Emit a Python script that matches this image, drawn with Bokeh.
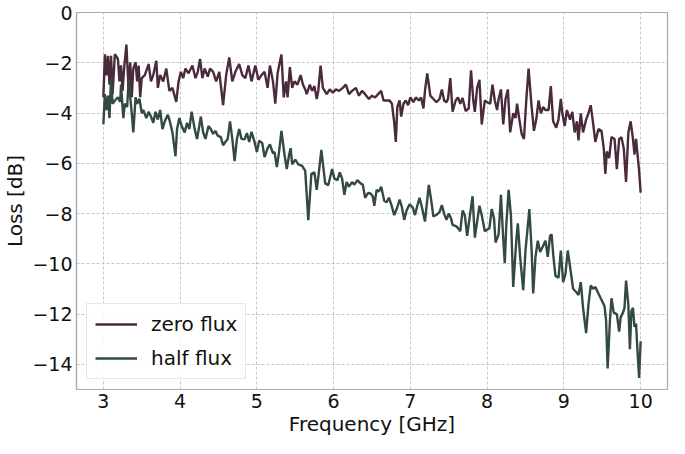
from bokeh.plotting import figure
from bokeh.models import Range1d, FixedTicker, Legend, LegendItem
from bokeh.embed import file_html
from bokeh.resources import INLINE

# ---- data ----
freq_zero = [3.00, 3.02, 3.04, 3.06, 3.08, 3.10, 3.12, 3.15, 3.19, 3.21, 3.23, 3.25, 3.27, 3.30, 3.33,
             3.35, 3.37, 3.39, 3.42, 3.44, 3.46, 3.48, 3.50, 3.54, 3.59, 3.62, 3.65, 3.69, 3.71, 3.74,
             3.78, 3.82, 3.86, 3.90, 3.95, 3.98, 4.01, 4.04, 4.07, 4.11, 4.16, 4.20, 4.23, 4.26, 4.29,
             4.32, 4.36, 4.39, 4.43, 4.47, 4.51, 4.56, 4.60, 4.64, 4.68, 4.72, 4.77, 4.81, 4.85, 4.89,
             4.93, 4.98, 5.02, 5.06, 5.10, 5.14, 5.17, 5.21, 5.24, 5.27, 5.29, 5.32, 5.35, 5.38, 5.40,
             5.43, 5.46, 5.49, 5.53, 5.57, 5.60, 5.63, 5.65, 5.69, 5.72, 5.75, 5.78, 5.80, 5.83, 5.86,
             5.91, 5.95, 5.99, 6.03, 6.07, 6.12, 6.16, 6.20, 6.24, 6.29, 6.33, 6.37, 6.41, 6.46, 6.50,
             6.54, 6.58, 6.62, 6.65, 6.69, 6.73, 6.76, 6.79, 6.81, 6.83, 6.86, 6.88, 6.91, 6.94, 6.97,
             7.00, 7.04, 7.07, 7.11, 7.14, 7.17, 7.19, 7.22, 7.26, 7.30, 7.34, 7.38, 7.41, 7.44, 7.47,
             7.49, 7.52, 7.55, 7.59, 7.62, 7.65, 7.68, 7.72, 7.76, 7.79, 7.82, 7.84, 7.87, 7.90, 7.93,
             7.97, 8.00, 8.04, 8.07, 8.10, 8.13, 8.15, 8.18, 8.21, 8.24, 8.27, 8.30, 8.34, 8.37, 8.39,
             8.42, 8.45, 8.48, 8.51, 8.54, 8.58, 8.61, 8.64, 8.67, 8.70, 8.73, 8.76, 8.80, 8.83, 8.86,
             8.90, 8.93, 8.96, 8.98, 9.01, 9.04, 9.08, 9.11, 9.14, 9.17, 9.19, 9.22, 9.25, 9.29, 9.32,
             9.35, 9.38, 9.41, 9.45, 9.49, 9.52, 9.54, 9.56, 9.59, 9.62, 9.66, 9.69, 9.72, 9.75, 9.78,
             9.81, 9.84, 9.87, 9.90, 9.92, 9.94, 9.96, 9.98, 10.00]
loss_zero = [-3.37, -1.66, -2.50, -1.72, -2.87, -1.72, -3.25, -1.66, -1.85, -2.74, -2.10, -3.12, -2.23, -1.28, -3.12,
             -1.98, -3.37, -2.23, -1.98, -2.74, -2.11, -3.37, -2.61, -2.49, -2.05, -2.74, -2.49, -1.92, -3.00, -2.49,
             -2.74, -2.23, -3.12, -3.00, -3.56, -2.74, -2.36, -2.61, -2.23, -2.42, -2.11, -2.61, -2.36, -1.85, -2.61,
             -2.23, -2.55, -2.23, -2.36, -2.74, -2.36, -3.69, -2.49, -1.79, -2.74, -2.36, -2.05, -2.49, -2.61, -2.11,
             -2.74, -2.11, -2.68, -2.49, -2.36, -3.00, -2.11, -2.74, -3.63, -2.42, -2.11, -1.67, -3.38, -2.74, -3.38,
             -2.17, -3.00, -2.74, -2.87, -2.49, -2.87, -3.06, -3.25, -2.87, -3.12, -2.93, -3.44, -3.12, -2.11, -3.00,
             -3.25, -3.06, -3.19, -3.06, -3.12, -3.00, -2.87, -3.25, -3.12, -3.00, -3.31, -3.12, -3.25, -3.44, -3.31,
             -3.38, -3.25, -3.12, -3.50, -3.50, -3.50, -3.63, -4.39, -5.15, -3.76, -3.50, -4.14, -3.63, -3.50, -3.69,
             -3.38, -3.57, -3.38, -3.50, -3.38, -3.82, -3.12, -2.42, -3.31, -3.44, -3.57, -3.44, -3.06, -3.50, -3.57,
             -3.44, -2.61, -3.95, -3.50, -3.38, -3.63, -3.40, -3.92, -3.82, -2.30, -3.50, -3.95, -3.00, -2.68, -4.45,
             -3.50, -3.57, -3.63, -2.87, -3.50, -3.88, -3.44, -3.06, -4.45, -3.44, -3.06, -4.77, -4.01, -4.20, -3.63,
             -4.26, -4.83, -5.03, -3.50, -2.23, -3.76, -4.71, -4.26, -3.50, -4.01, -3.76, -3.88, -3.88, -2.93, -4.33,
             -4.58, -4.26, -3.44, -4.01, -4.52, -3.88, -4.26, -3.95, -4.77, -4.33, -5.09, -4.01, -4.77, -4.26, -4.01,
             -3.69, -4.39, -5.15, -4.64, -4.71, -5.41, -6.42, -5.53, -5.79, -4.96, -5.03, -6.23, -5.03, -4.96, -5.41,
             -6.74, -4.77, -4.33, -5.03, -5.66, -5.03, -5.66, -6.29, -7.17]

freq_half = [3.00, 3.02, 3.04, 3.06, 3.08, 3.10, 3.12, 3.15, 3.19, 3.22, 3.23, 3.26, 3.28, 3.31, 3.33,
             3.37, 3.39, 3.42, 3.44, 3.47, 3.50, 3.52, 3.56, 3.59, 3.62, 3.65, 3.68, 3.71, 3.74, 3.77,
             3.80, 3.84, 3.86, 3.90, 3.94, 3.96, 3.99, 4.02, 4.06, 4.09, 4.12, 4.15, 4.19, 4.22, 4.25,
             4.27, 4.30, 4.33, 4.37, 4.40, 4.43, 4.46, 4.49, 4.53, 4.56, 4.59, 4.62, 4.65, 4.68, 4.71,
             4.74, 4.77, 4.80, 4.84, 4.87, 4.90, 4.93, 4.97, 5.00, 5.03, 5.07, 5.10, 5.14, 5.17, 5.21,
             5.23, 5.26, 5.29, 5.32, 5.36, 5.39, 5.42, 5.44, 5.46, 5.50, 5.54, 5.59, 5.63, 5.67, 5.71,
             5.75, 5.78, 5.81, 5.84, 5.89, 5.93, 5.98, 6.01, 6.05, 6.08, 6.11, 6.14, 6.17, 6.20, 6.24,
             6.27, 6.31, 6.35, 6.38, 6.41, 6.45, 6.48, 6.51, 6.53, 6.56, 6.59, 6.62, 6.66, 6.69, 6.72,
             6.75, 6.79, 6.83, 6.86, 6.89, 6.92, 6.95, 6.99, 7.03, 7.06, 7.09, 7.12, 7.15, 7.19, 7.24,
             7.27, 7.30, 7.34, 7.38, 7.41, 7.44, 7.47, 7.50, 7.53, 7.55, 7.60, 7.62, 7.65, 7.68, 7.71,
             7.74, 7.77, 7.81, 7.84, 7.87, 7.90, 7.93, 7.97, 8.00, 8.03, 8.06, 8.09, 8.11, 8.15, 8.18,
             8.21, 8.23, 8.25, 8.28, 8.31, 8.34, 8.38, 8.40, 8.43, 8.47, 8.50, 8.55, 8.58, 8.60, 8.63,
             8.66, 8.69, 8.73, 8.76, 8.79, 8.82, 8.84, 8.86, 8.89, 8.93, 8.96, 8.99, 9.02, 9.05, 9.08,
             9.12, 9.16, 9.19, 9.22, 9.25, 9.29, 9.32, 9.35, 9.38, 9.41, 9.45, 9.48, 9.51, 9.53, 9.55,
             9.57, 9.60, 9.62, 9.65, 9.69, 9.72, 9.74, 9.77, 9.79, 9.81, 9.84, 9.86, 9.88, 9.90, 9.92,
             9.94, 9.96, 9.98, 10.00]
loss_half = [-4.45, -3.25, -3.88, -3.31, -4.20, -2.61, -3.63, -3.50, -3.37, -3.56, -2.87, -4.20, -3.63, -3.76, -2.68,
             -4.01, -4.77, -3.37, -3.63, -3.43, -4.01, -3.88, -4.20, -3.95, -4.14, -4.39, -3.95, -4.26, -3.88, -4.64,
             -4.33, -4.07, -4.26, -4.77, -5.72, -4.64, -4.20, -4.52, -4.77, -4.39, -4.64, -3.95, -4.64, -5.03, -4.52,
             -4.14, -4.77, -5.03, -4.52, -4.64, -4.83, -4.71, -4.90, -4.96, -5.28, -5.15, -5.03, -4.33, -5.03, -5.91,
             -5.03, -4.64, -5.03, -5.05, -4.80, -5.15, -4.75, -5.15, -5.55, -5.10, -5.20, -5.75, -5.40, -5.25, -5.60,
             -5.55, -6.15, -5.53, -4.71, -5.66, -6.23, -5.66, -5.40, -6.04, -5.85, -6.04, -6.10, -6.30, -8.26, -6.42,
             -6.36, -7.06, -6.30, -5.47, -6.80, -6.87, -6.23, -6.61, -6.67, -6.36, -6.60, -7.25, -6.74, -6.93, -6.75,
             -6.85, -6.67, -6.80, -6.85, -7.37, -7.18, -7.20, -7.31, -7.69, -7.06, -7.12, -6.93, -7.50, -7.55, -7.37,
             -7.63, -8.06, -7.75, -7.44, -7.75, -8.25, -7.88, -7.63, -7.75, -8.06, -7.69, -7.37, -7.75, -8.32, -6.86,
             -7.44, -8.12, -8.05, -7.94, -7.66, -8.00, -8.25, -8.00, -8.20, -8.45, -8.51, -8.58, -8.70, -7.88, -8.07,
             -8.89, -8.20, -7.31, -8.96, -8.32, -7.69, -8.07, -8.70, -8.64, -8.58, -7.82, -8.20, -9.15, -8.83, -7.25,
             -9.02, -9.97, -8.45, -7.06, -8.07, -10.92, -9.08, -8.39, -9.72, -11.05, -9.47, -7.82, -9.47, -11.18, -9.72,
             -9.08, -9.53, -9.28, -9.08, -9.72, -8.89, -8.83, -9.60, -10.48, -10.55, -9.47, -10.73, -10.42, -9.47, -10.10,
             -10.99, -11.12, -11.24, -10.73, -11.75, -12.76, -11.62, -10.86, -10.99, -10.92, -11.18, -11.37, -11.56, -11.69, -12.26,
             -14.16, -12.26, -11.37, -11.94, -12.00, -12.70, -12.13, -11.94, -11.75, -10.67, -11.62, -13.40, -11.88, -11.75, -12.51,
             -12.38, -13.52, -14.54, -13.08]

series_labels = ["zero flux", "half flux"]
x_ticks = [3, 4, 5, 6, 7, 8, 9, 10]
y_ticks = [0, -2, -4, -6, -8, -10, -12, -14]

# ---- figure ----
FONT = "DejaVu Sans"
p = figure(width=669, height=438, output_backend="svg", toolbar_location=None,
           x_range=Range1d(2.65, 10.35), y_range=Range1d(-15, 0),
           min_border_top=12, min_border_right=2, min_border_left=10, min_border_bottom=10)
p.background_fill_color = "white"
p.border_fill_color = "white"
p.outline_line_color = "#aaaaaa"
p.outline_line_width = 1.2

c_zero = "#4a2b3b"
c_half = "#334a3e"
r0 = p.line(freq_zero, loss_zero, line_color=c_zero, line_width=2.4)
r1 = p.line(freq_half, loss_half, line_color=c_half, line_width=2.4)

p.xaxis.ticker = FixedTicker(ticks=x_ticks)
p.yaxis.ticker = FixedTicker(ticks=y_ticks)
p.yaxis.major_label_overrides = {t: ("\u2212" + str(-t) if t < 0 else str(t)) for t in y_ticks}

for ax in (p.xaxis[0], p.yaxis[0]):
    ax.axis_line_color = "#aaaaaa"
    ax.axis_line_width = 1.2
    ax.major_tick_out = 0
    ax.major_tick_in = 0
    ax.minor_tick_out = 0
    ax.minor_tick_in = 0
    ax.major_label_text_font = FONT
    ax.major_label_text_font_size = "19px"
    ax.major_label_text_color = "#111111"
    ax.axis_label_text_font = FONT
    ax.axis_label_text_font_size = "20px"
    ax.axis_label_text_font_style = "normal"
    ax.axis_label_text_color = "#111111"
    ax.major_label_standoff = 4

p.xaxis.axis_label = "Frequency [GHz]"
p.yaxis.axis_label = "Loss [dB]"
p.xaxis.axis_label_standoff = 1
p.yaxis.axis_label_standoff = 2

for g in (p.xgrid[0], p.ygrid[0]):
    g.grid_line_color = "#b8b8b8"
    g.grid_line_dash = "3 2"
    g.grid_line_width = 0.8

legend = Legend(items=[LegendItem(label=series_labels[0], renderers=[r0]),
                       LegendItem(label=series_labels[1], renderers=[r1])],
                location="bottom_left")
legend.label_text_font = FONT
legend.label_text_font_size = "20px"
legend.label_text_color = "#111111"
legend.glyph_width = 42
legend.glyph_height = 22
legend.label_standoff = 14
legend.spacing = 10
legend.padding = 8
legend.margin = 10
legend.border_line_color = "#d0d0d0"
legend.border_line_width = 1
legend.background_fill_alpha = 0.85
p.add_layout(legend)

open("out.html", "w").write(file_html(p, INLINE))
